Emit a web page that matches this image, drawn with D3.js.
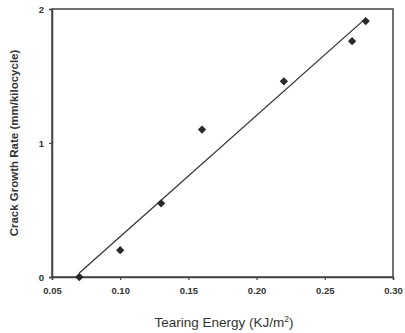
<!DOCTYPE html>
<html>
<head>
<meta charset="utf-8">
<script src="https://cdn.jsdelivr.net/npm/d3@7"></script>
<style>
  body { margin: 0; background: #fff; }
  text { font-family: "Liberation Sans", Arial, sans-serif; fill: #333; }
</style>
</head>
<body>
<svg id="chart" width="405" height="333"></svg>
<script>
// measured points
const tearingEnergy = [0.07, 0.10, 0.13, 0.16, 0.22, 0.27, 0.28];
const crackRate = [0.0, 0.2, 0.55, 1.1, 1.46, 1.76, 1.91];
// fitted line ends
const fitX = [0.07, 0.28];
const fitY = [0.03, 1.93];
const xTicks = [0.05, 0.10, 0.15, 0.20, 0.25, 0.30];
const yTicks = [0, 1, 2];

const svg = d3.select("#chart");
const plotLeft = 52, plotRight = 393, plotTop = 9, plotBottom = 277;

const x = d3.scaleLinear().domain([0.05, 0.30]).range([plotLeft, plotRight]);
const y = d3.scaleLinear().domain([0, 2]).range([plotBottom, plotTop]);

// frame
svg.append("rect")
  .attr("x", plotLeft).attr("y", plotTop)
  .attr("width", plotRight - plotLeft).attr("height", plotBottom - plotTop)
  .attr("fill", "none").attr("stroke", "#444").attr("stroke-width", 1.5);

const xAxis = svg.append("g")
  .attr("transform", `translate(0,${plotBottom})`)
  .call(d3.axisBottom(x).tickValues(xTicks).tickFormat(d3.format(".2f")).tickSize(3).tickPadding(7));
const yAxis = svg.append("g")
  .attr("transform", `translate(${plotLeft},0)`)
  .call(d3.axisLeft(y).tickValues(yTicks).tickFormat(d3.format("d")).tickSize(3).tickPadding(5));

[xAxis, yAxis].forEach(g => {
  g.select(".domain").attr("stroke", "#444").attr("stroke-width", 1.5);
  g.selectAll(".tick line").attr("stroke", "#444").attr("stroke-width", 1.2);
  g.selectAll(".tick text")
    .attr("font-size", 9.5).attr("font-weight", "bold")
    .style("font-family", "'Liberation Sans', Arial, sans-serif").attr("fill", "#333");
});

// regression line
svg.append("line")
  .attr("x1", x(fitX[0])).attr("y1", y(fitY[0]))
  .attr("x2", x(fitX[1])).attr("y2", y(fitY[1]))
  .attr("stroke", "#333").attr("stroke-width", 1.3);

// diamond markers
const sym = d3.symbol().type(d3.symbolDiamond2).size(44);
svg.selectAll(".pt")
  .data(tearingEnergy.map((e, i) => [e, crackRate[i]]))
  .enter().append("path")
  .attr("class", "pt")
  .attr("d", sym)
  .attr("transform", d => `translate(${x(d[0])},${y(d[1])})`)
  .attr("fill", "#2a2a2a");

// axis titles
const xt = svg.append("text")
  .attr("x", 224).attr("y", 327)
  .attr("text-anchor", "middle").attr("font-size", 13.5);
xt.append("tspan").text("Tearing Energy (KJ/m");
xt.append("tspan").attr("dy", -5).attr("font-size", 8.5).text("2");
xt.append("tspan").attr("dy", 5).text(")");

svg.append("text")
  .attr("transform", `translate(18,143) rotate(-90)`)
  .attr("text-anchor", "middle").attr("font-size", 11.5).attr("font-weight", "bold")
  .text("Crack Growth Rate (mm/kilocycle)");
</script>
</body>
</html>
